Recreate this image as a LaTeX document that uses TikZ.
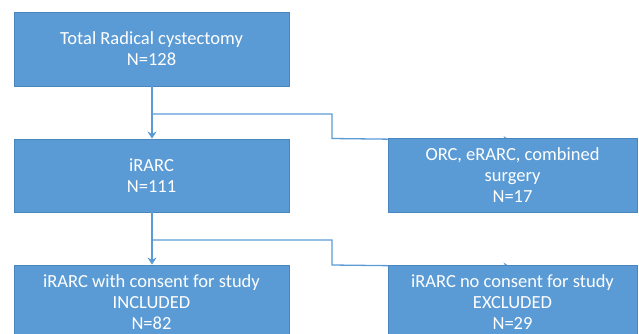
\documentclass[tikz,border=0pt]{standalone}
\usepackage{fontspec}
\setmainfont{Carlito}
\usetikzlibrary{arrows.meta,backgrounds}
\definecolor{boxblue}{HTML}{5B9BD5}
\definecolor{boxedge}{HTML}{4A86BE}
\begin{document}
\begin{tikzpicture}[x=1pt,y=-1pt,
  box/.style={draw=boxedge, line width=0.8pt, fill=boxblue, text=white, align=center,
    font=\fontsize{18.5}{21}\selectfont, inner sep=0pt},
  conn/.style={draw=boxblue, line width=1.3pt, -{Stealth[length=7pt,width=9pt]}}]
\useasboundingbox (0,0) rectangle (639,333);
\clip (0,0) rectangle (639,333);
\node[box, minimum width=275pt, minimum height=74pt] (total) at (151.5,49) {Total Radical cystectomy\\N=128};
\node[box, minimum width=275pt, minimum height=73pt] (irarc) at (151.5,175.5) {iRARC\\N=111};
\node[box, minimum width=275pt, minimum height=74pt] (incl) at (151.5,302) {iRARC with consent for study\\INCLUDED\\N=82};
\node[box, minimum width=249pt, minimum height=74pt] (orc) at (512.5,175.5) {ORC, eRARC, combined\\surgery\\N=17};
\node[box, minimum width=249pt, minimum height=74pt] (excl) at (512.5,302) {iRARC no consent for study\\EXCLUDED\\N=29};
\coordinate (b1) at (152,114);
\coordinate (b2) at (152,240);
\draw[conn] (total.south -| b1) -- (irarc.north -| b1);
\draw[conn] (irarc.south -| b2) -- (incl.north -| b2);
\begin{scope}[on background layer]
\draw[conn] (b1) -- (332,114) -- (332,138.5) -- ([xshift=-2pt,yshift=-2.5pt]orc.north);
\draw[conn] (b2) -- (332,240) -- (332,265) -- ([xshift=-2pt,yshift=-2.5pt]excl.north);
\end{scope}
\end{tikzpicture}
\end{document}
